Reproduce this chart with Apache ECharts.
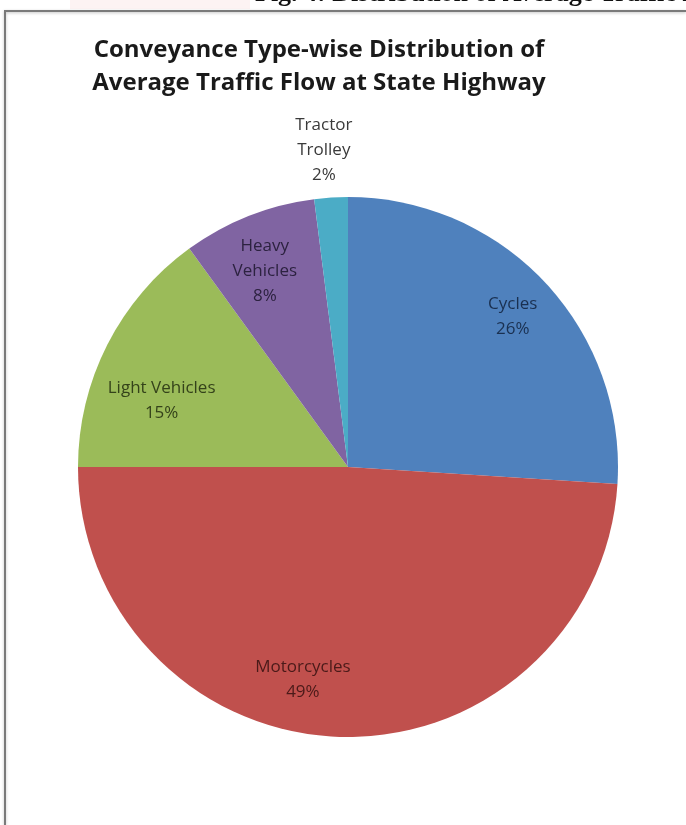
<!DOCTYPE html>
<html>
<head>
<meta charset="utf-8">
<script src="https://cdn.jsdelivr.net/npm/echarts@6/dist/echarts.min.js"></script>
<style>
  html, body { margin: 0; padding: 0; background: #ffffff; }
  #chart { width: 686px; height: 825px; }
</style>
</head>
<body>
<div id="chart"></div>
<script>
// Conveyance types and their share of average traffic flow (%)
const categories = ['Cycles', 'Motorcycles', 'Light Vehicles', 'Heavy Vehicles', 'Tractor Trolley'];
const labelNames = ['Cycles', 'Motorcycles', 'Light Vehicles', 'Heavy\nVehicles', 'Tractor\nTrolley'];
const shares = [26, 49, 15, 8, 2];
const sliceColors = ['#4F81BD', '#C0504D', '#9BBB59', '#8064A2', '#4BACC6'];
const labelColors = ['#1a3050', '#4a1a19', '#34421a', '#2c2240', '#3a3a3a'];

// per-label nudges (best-fit placement)
const labelNudge = [[0, 4], [-38, -13], [15, 36], [0, 14], [-10, -91]];

const chart = echarts.init(document.getElementById('chart'), null, { renderer: 'canvas' });

const pieData = categories.map((c, i) => ({
  name: c,
  value: shares[i],
  itemStyle: { color: sliceColors[i] }
}));

const labelData = categories.map((c, i) => ({
  name: c,
  value: shares[i],
  label: { color: labelColors[i] }
}));

const center = [348, 467];
const R = 270;

chart.setOption({
  animation: false,
  backgroundColor: '#ffffff',
  title: {
    text: 'Conveyance Type-wise Distribution of\nAverage Traffic Flow at State Highway',
    left: 314,
    top: 29,
    textAlign: 'center',
    textStyle: {
      fontFamily: 'Open Sans',
      fontWeight: 'bold',
      fontSize: 24,
      lineHeight: 33,
      color: '#1a1a1a'
    }
  },
  graphic: [
    {
      type: 'rect',
      shape: { x: 70, y: 0, width: 180, height: 9 },
      style: { fill: 'rgba(235,140,140,0.10)' },
      z: 0
    },
    {
      type: 'text',
      left: 255,
      top: -19,
      style: {
        text: 'Fig. 4: Distribution of Average Traffic Flow',
        font: 'bold 26px "Liberation Serif"',
        fill: '#111111'
      },
      z: 1
    },
    {
      type: 'polyline',
      shape: { points: [[5, 825], [5, 11], [686, 11]] },
      style: { stroke: '#7a7a7a', lineWidth: 2, fill: null,
               shadowColor: 'rgba(0,0,0,0.25)', shadowBlur: 3, shadowOffsetY: 1 },
      z: 2
    }
  ],
  series: [
    {
      name: 'Share',
      type: 'pie',
      center: center,
      radius: [0, R],
      startAngle: 90,
      clockwise: true,
      silent: true,
      label: { show: false },
      labelLine: { show: false },
      itemStyle: { borderWidth: 0 },
      data: pieData
    },
    {
      name: 'Labels',
      type: 'pie',
      center: center,
      radius: [176, R],
      startAngle: 90,
      clockwise: true,
      silent: true,
      itemStyle: { color: 'rgba(0,0,0,0)' },
      label: {
        show: true,
        position: 'inside',
        fontFamily: 'Open Sans',
        fontWeight: 500,
        fontSize: 17,
        lineHeight: 25,
        formatter: p => labelNames[p.dataIndex] + '\n' + p.value + '%'
      },
      labelLine: { show: false },
      labelLayout: p => ({ dx: labelNudge[p.dataIndex][0], dy: labelNudge[p.dataIndex][1] }),
      data: labelData,
      z: 3
    }
  ]
});
</script>
</body>
</html>
